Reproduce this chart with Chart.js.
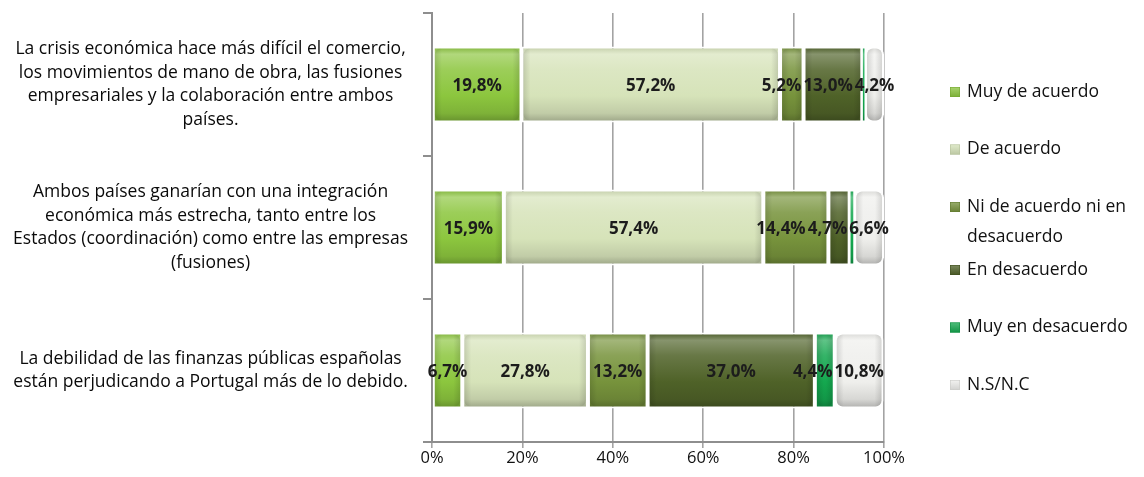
<!DOCTYPE html>
<html>
<head>
<meta charset="utf-8">
<script src="https://cdn.jsdelivr.net/npm/chart.js@4/dist/chart.umd.min.js"></script>
<style>
  html, body { margin: 0; padding: 0; background: #ffffff; }
  #wrap { width: 1144px; height: 477px; position: relative; }
</style>
</head>
<body>
<div id="wrap"><canvas id="c" width="1144" height="477"></canvas></div>
<script>
// Statements (one bar each)
const categories = [
  ["La crisis económica hace más difícil el comercio,",
   "los movimientos de mano de obra, las fusiones",
   "empresariales y la colaboración entre ambos",
   "países."],
  ["Ambos países ganarían con una integración",
   "económica más estrecha, tanto entre los",
   "Estados (coordinación) como entre las empresas",
   "(fusiones)"],
  ["La debilidad de las finanzas públicas españolas",
   "están perjudicando a Portugal más de lo debido."]
];

// Answer options (stack order, left to right)
const seriesNames = [
  "Muy de acuerdo",
  "De acuerdo",
  ["Ni de acuerdo ni en", "desacuerdo"],
  "En desacuerdo",
  "Muy en desacuerdo",
  "N.S/N.C"
];

// Percentages per answer option, one value per statement
const muyDeAcuerdo      = [19.8, 15.9, 6.7];
const deAcuerdo         = [57.2, 57.4, 27.8];
const niAcuerdoNiDesac  = [5.2, 14.4, 13.2];
const enDesacuerdo      = [13.0, 4.7, 37.0];
const muyEnDesacuerdo   = [0.6, 1.0, 4.4];
const nsNc              = [4.2, 6.6, 10.8];

const xTicks = [0, 20, 40, 60, 80, 100];

const baseColors = ["#8cc63e", "#d6e3b9", "#77933c", "#4f6228", "#14a84f", "#efefec"];

const FONT = '"Open Sans", sans-serif';

function hexToRgb(h) {
  const n = parseInt(h.slice(1), 16);
  return [(n >> 16) & 255, (n >> 8) & 255, n & 255];
}
function mix(h, target, t) {
  const a = hexToRgb(h), b = target === 'w' ? [255, 255, 255] : [0, 0, 0];
  const c = a.map((v, i) => Math.round(v + (b[i] - v) * t));
  return `rgb(${c[0]},${c[1]},${c[2]})`;
}

const BAR_FRACTION = 0.53;
const GAP = 2;

// Vertical sheen across each bar
function barFill(base) {
  return (ctx) => {
    const chart = ctx.chart;
    const ys = chart.scales && chart.scales.y;
    if (!chart.chartArea || !ys || ctx.type !== 'data') return base;
    const c = ys.getPixelForValue(ctx.dataIndex);
    const half = ys.height / categories.length * BAR_FRACTION / 2;
    const g = chart.ctx.createLinearGradient(0, c - half, 0, c + half);
    g.addColorStop(0.00, mix(base, 'k', 0.10));
    g.addColorStop(0.10, mix(base, 'w', 0.32));
    g.addColorStop(0.30, mix(base, 'w', 0.14));
    g.addColorStop(0.65, base);
    g.addColorStop(0.88, mix(base, 'k', 0.10));
    g.addColorStop(1.00, mix(base, 'k', 0.28));
    return g;
  };
}

function sideBorder(chart, v) {
  const w = v / 100 * (chart.chartArea.right - chart.chartArea.left);
  return Math.min(GAP, w * 0.2);
}

// Thin segments keep their colour instead of vanishing into the white gap
function segBorder(ctx) {
  const chart = ctx.chart;
  if (!chart.chartArea) return GAP;
  const side = sideBorder(chart, ctx.raw || 0);
  return { top: GAP, bottom: GAP, left: side, right: side };
}

const seriesValues = [muyDeAcuerdo, deAcuerdo, niAcuerdoNiDesac, enDesacuerdo, muyEnDesacuerdo, nsNc];

const datasets = seriesValues.map((vals, i) => ({
  label: Array.isArray(seriesNames[i]) ? seriesNames[i].join(' ') : seriesNames[i],
  data: vals,
  backgroundColor: barFill(baseColors[i]),
  borderColor: '#ffffff',
  borderWidth: segBorder,
  borderRadius: 8,
  borderSkipped: false,
  barPercentage: 1,
  categoryPercentage: BAR_FRACTION
}));

// Rounded end shading on each segment, then the value labels
const segmentDecor = {
  id: 'segmentDecor',
  afterDatasetsDraw(chart) {
    const ctx = chart.ctx;
    const rows = categories.map(() => []);
    ctx.save();
    chart.data.datasets.forEach((ds, di) => {
      const meta = chart.getDatasetMeta(di);
      meta.data.forEach((el, i) => {
        const v = ds.data[i];
        const p = el.getProps(['x', 'y', 'base', 'height'], true);
        const side = sideBorder(chart, v);
        const x0 = Math.min(p.x, p.base) + side, x1 = Math.max(p.x, p.base) - side;
        const y0 = p.y - p.height / 2 + GAP, y1 = p.y + p.height / 2 - GAP;
        const w = x1 - x0;
        if (w > 14) {
          const g = ctx.createLinearGradient(x0, 0, x1, 0);
          const e = 7 / w;
          g.addColorStop(0, 'rgba(0,0,0,0.12)');
          g.addColorStop(e, 'rgba(0,0,0,0)');
          g.addColorStop(1 - e, 'rgba(0,0,0,0)');
          g.addColorStop(1, 'rgba(0,0,0,0.12)');
          ctx.beginPath();
          ctx.roundRect(x0, y0, w, y1 - y0, 6);
          ctx.fillStyle = g;
          ctx.fill();
        }
        if (v >= 2) {
          rows[i].push({ text: v.toFixed(1).replace('.', ',') + '%', cx: (p.x + p.base) / 2, cy: p.y + 2, dy: 0 });
        }
      });
    });

    ctx.font = 'bold 17px ' + FONT;
    ctx.fillStyle = '#1c1c1c';
    ctx.textAlign = 'center';
    ctx.textBaseline = 'middle';
    rows.forEach((row) => {
      row.forEach(l => { l.w = ctx.measureText(l.text).width; });
      // nudge crowded labels leftwards, and lift them when that is not enough
      for (let k = row.length - 2; k >= 0; k--) {
        const a = row[k], b = row[k + 1];
        const overlap = (a.cx + a.w / 2) - (b.cx - b.w / 2 - 2);
        if (overlap > 0) {
          const shift = Math.min(overlap, 22);
          a.cx -= shift;
          if (overlap - shift > 0) a.dy = -10;
        }
      }
      row.forEach(l => ctx.fillText(l.text, l.cx, l.cy + l.dy));
    });
    ctx.restore();
  }
};

// Legend column on the right
const sideLegend = {
  id: 'sideLegend',
  afterDraw(chart) {
    const ctx = chart.ctx;
    ctx.save();
    ctx.font = '17.5px ' + FONT;
    ctx.textAlign = 'left';
    ctx.textBaseline = 'middle';
    const boxX = 950, textX = 967, step = 57.5, lineGap = 30, extraPerLine = 5.5;
    let y = 92;
    seriesNames.forEach((name, i) => {
      const lines = Array.isArray(name) ? name : [name];
      const base = baseColors[i];
      const g = ctx.createLinearGradient(boxX, y - 5, boxX, y + 5);
      g.addColorStop(0, mix(base, 'w', 0.25));
      g.addColorStop(1, mix(base, 'k', 0.12));
      ctx.fillStyle = g;
      ctx.fillRect(boxX, y - 5, 10, 10);
      ctx.strokeStyle = mix(base, 'k', 0.15);
      ctx.lineWidth = 0.6;
      ctx.strokeRect(boxX + 0.3, y - 4.7, 9.4, 9.4);
      ctx.fillStyle = '#111111';
      lines.forEach((ln, k) => ctx.fillText(ln, textX, y + k * lineGap));
      y += step + (lines.length - 1) * extraPerLine;
    });
    ctx.restore();
  }
};

new Chart(document.getElementById('c'), {
  type: 'bar',
  data: { labels: categories, datasets },
  options: {
    indexAxis: 'y',
    responsive: false,
    animation: false,
    events: [],
    layout: { padding: { left: 0, right: 260, top: 13, bottom: 0 } },
    plugins: {
      legend: { display: false },
      tooltip: { enabled: false },
      title: { display: false }
    },
    scales: {
      x: {
        stacked: true,
        min: 0,
        max: 100,
        afterBuildTicks(scale) { scale.ticks = xTicks.map(v => ({ value: v })); },
        afterFit(scale) { scale.height = 35; scale.paddingLeft = 0; scale.paddingRight = 0; },
        ticks: {
          callback: (v) => v + '%',
          font: { family: FONT, size: 16.5 },
          color: '#111111',
          padding: 0,
          maxRotation: 0
        },
        grid: { color: '#a3a3a3', lineWidth: 1.6, tickLength: 6, drawTicks: true },
        border: { color: '#8e8e8e', width: 2 }
      },
      y: {
        stacked: true,
        afterFit(scale) { scale.width = 432; scale.paddingTop = 0; scale.paddingBottom = 0; },
        ticks: {
          crossAlign: 'center',
          padding: 15,
          font: { family: FONT, size: 17.5, lineHeight: 1.35 },
          color: '#0a0a0a'
        },
        grid: { offset: true, drawOnChartArea: false, drawTicks: true, tickLength: 9, color: '#8e8e8e', lineWidth: 2 },
        border: { color: '#8e8e8e', width: 2 }
      }
    }
  },
  plugins: [segmentDecor, sideLegend]
});
</script>
</body>
</html>
